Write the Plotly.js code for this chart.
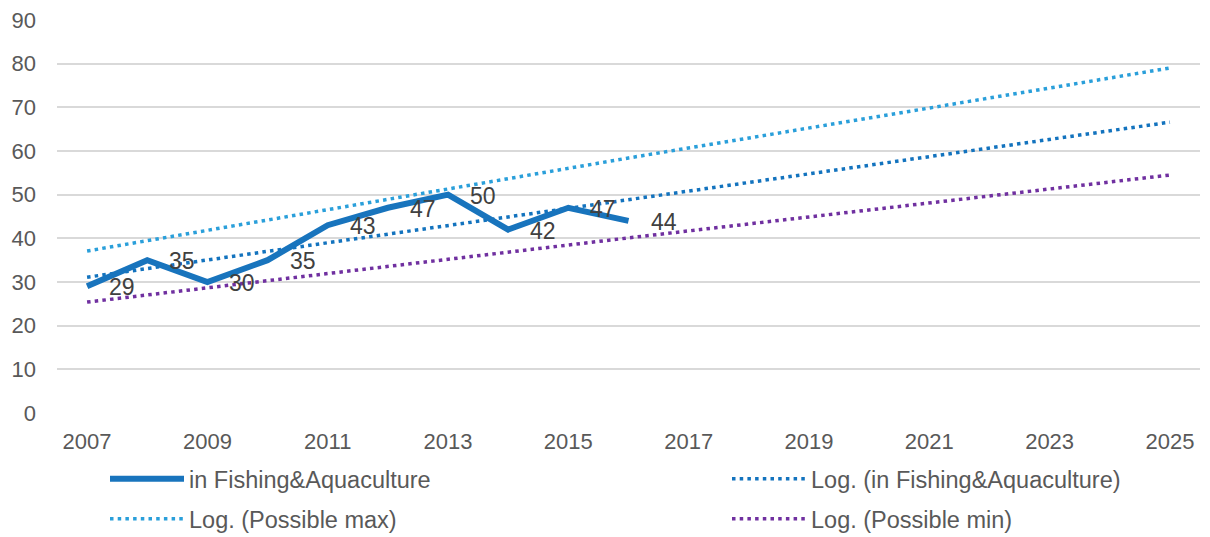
<!DOCTYPE html>
<html>
<head>
<meta charset="utf-8">
<script src="https://cdn.plot.ly/plotly-3.0.1.min.js"></script>
<style>html,body{margin:0;padding:0;background:#fff;}#chart{width:1210px;height:537px;}</style>
</head>
<body>
<div id="chart"></div>
<script>
// Observed series
var years = [2007, 2008, 2009, 2010, 2011, 2012, 2013, 2014, 2015, 2016];
var fishing = [29, 35, 30, 35, 43, 47, 50, 42, 47, 44];

// Trend lines (2007, 2016, 2025)
var trendYears = [2007, 2016, 2025];
var trendFishing = [31.1, 48.9, 66.6];
var trendMax = [37.1, 58.4, 79.0];
var trendMin = [25.4, 40.1, 54.5];

var xTicks = [2007, 2009, 2011, 2013, 2015, 2017, 2019, 2021, 2023, 2025];
var yTicks = [0, 10, 20, 30, 40, 50, 60, 70, 80, 90];

var FONT = 'Liberation Sans, Arial, sans-serif';
var dotDash = '3.5px,4.2px';

var traces = [
  {x: trendYears, y: trendFishing, mode: 'lines', name: 'Log. (in Fishing&Aquaculture)',
   line: {color: '#1373BE', width: 3.5, dash: dotDash}, legend: 'legend2', hoverinfo: 'skip'},
  {x: trendYears, y: trendMax, mode: 'lines', name: 'Log. (Possible max)',
   line: {color: '#2A9FDA', width: 3.5, dash: dotDash}, legend: 'legend3', hoverinfo: 'skip'},
  {x: trendYears, y: trendMin, mode: 'lines', name: 'Log. (Possible min)',
   line: {color: '#7030A0', width: 3.5, dash: dotDash}, legend: 'legend4', hoverinfo: 'skip'},
  {x: years, y: fishing, mode: 'lines', name: 'in Fishing&Aquaculture',
   line: {color: '#1874BD', width: 6}, legend: 'legend', hoverinfo: 'skip'}
];

var annotations = years.map(function (yr, i) {
  return {x: yr, y: fishing[i], xref: 'x', yref: 'y', text: String(fishing[i]),
    showarrow: false, xanchor: 'left', yanchor: 'middle', xshift: 20, yshift: -1,
    font: {family: FONT, size: 23, color: '#404040'}};
});

function mkLegend(xpx, ypx) {
  return {
    orientation: 'h', xref: 'container', yref: 'container',
    x: xpx / 1210, y: 1 - ypx / 537, xanchor: 'left', yanchor: 'middle',
    font: {family: FONT, size: 23.5, color: '#595959'},
    bgcolor: 'rgba(0,0,0,0)', itemwidth: 74, borderwidth: 0,
    itemclick: false, itemdoubleclick: false
  };
}

var layout = {
  width: 1210, height: 537,
  margin: {l: 57, r: 10, t: 20, b: 124},
  paper_bgcolor: '#ffffff', plot_bgcolor: '#ffffff',
  font: {family: FONT, size: 22, color: '#595959'},
  showlegend: true,
  xaxis: {
    range: [2006.5, 2025.5], tickvals: xTicks, ticktext: xTicks.map(String),
    showgrid: false, zeroline: false, showline: false, ticks: '', ticklabelstandoff: 13,
    tickfont: {family: FONT, size: 22, color: '#595959'}, fixedrange: true
  },
  yaxis: {
    range: [0, 90], tickvals: yTicks, ticktext: yTicks.map(String),
    showgrid: true, gridcolor: '#D9D9D9', gridwidth: 2,
    zeroline: false, showline: false, ticks: '', ticklabelstandoff: 20,
    tickfont: {family: FONT, size: 22, color: '#595959'}, fixedrange: true
  },
  legend: mkLegend(105, 479),
  legend2: mkLegend(727, 479),
  legend3: mkLegend(105, 519),
  legend4: mkLegend(727, 519),
  annotations: annotations
};

Plotly.newPlot('chart', traces, layout, {displayModeBar: false, staticPlot: true});
</script>
</body>
</html>
